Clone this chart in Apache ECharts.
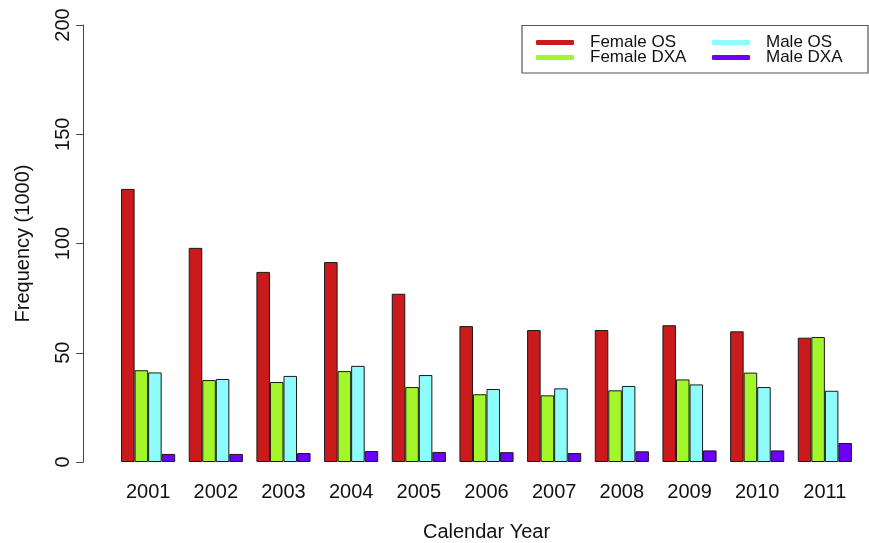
<!DOCTYPE html>
<html>
<head>
<meta charset="utf-8">
<script src="https://cdn.jsdelivr.net/npm/echarts@6/dist/echarts.min.js"></script>
<style>html,body{margin:0;padding:0;background:#fff}#c{width:869px;height:543px}</style>
</head>
<body>
<div id="c"></div>
<script>
const years = ['2001','2002','2003','2004','2005','2006','2007','2008','2009','2010','2011'];
const femaleOS  = [125, 98, 87, 91.5, 77, 62.2, 60.4, 60.4, 62.6, 59.8, 56.9];
const femaleDXA = [42, 37.5, 36.6, 41.6, 34.3, 31, 30.5, 32.8, 37.8, 40.9, 57.2];
const maleOS    = [41, 38, 39.4, 44, 39.8, 33.4, 33.7, 34.8, 35.5, 34.3, 32.6];
const maleDXA   = [3.7, 3.7, 4.1, 5, 4.6, 4.5, 4.1, 4.9, 5.3, 5.3, 8.7];
const yTicks = [0, 50, 100, 150, 200];

const colors = {'Female OS':'#CB1A1C','Female DXA':'#A3F62A','Male OS':'#8EFCFC','Male DXA':'#6A00FA'};
const font = 'Liberation Sans, Arial, sans-serif';

function bar(name, data){
  return {name, type:'bar', data, barGap:'0%', barCategoryGap:'20%',
    itemStyle:{color:colors[name], borderColor:'#1a1a1a', borderWidth:1}};
}
const legendCommon = {
  orient:'vertical', icon:'roundRect', itemWidth:38, itemHeight:5, itemGap:-2, padding:0,
  itemStyle:{borderWidth:0},
  textStyle:{fontFamily:font, fontSize:17, color:'#111', padding:[0,0,0,11]}
};
const chart = echarts.init(document.getElementById('c'), null, {renderer:'canvas'});
chart.setOption({
  animation:false,
  color:Object.values(colors),
  grid:{left:114.3, right:10.3, top:25, bottom:81, containLabel:false, outerBoundsMode:'none'},
  graphic:[{type:'rect', shape:{x:522, y:25.5, width:346, height:47.5},
    style:{fill:'none', stroke:'#555', lineWidth:1.2}}],
  legend:[
    Object.assign({left:536, top:34, data:['Female OS','Female DXA']}, legendCommon),
    Object.assign({left:712, top:34, data:['Male OS','Male DXA']}, legendCommon)
  ],
  xAxis:{type:'category', data:years,
    axisLine:{show:false}, axisTick:{show:false},
    axisLabel:{fontFamily:font, fontSize:20, color:'#111', margin:20},
    name:'Calendar Year', nameLocation:'middle', nameGap:60,
    nameTextStyle:{fontFamily:font, fontSize:20, color:'#111'}},
  yAxis:{type:'value', min:yTicks[0], max:yTicks[yTicks.length-1], interval:50, offset:31,
    splitLine:{show:false},
    axisLine:{show:true, lineStyle:{color:'#444', width:1}},
    axisTick:{show:true, inside:false, length:7, lineStyle:{color:'#444'}},
    axisLabel:{fontFamily:font, fontSize:20, color:'#111', rotate:90, margin:10},
    name:'Frequency (1000)', nameLocation:'middle', nameRotate:90, nameGap:50,
    nameTextStyle:{fontFamily:font, fontSize:20, color:'#111'}},
  series:[bar('Female OS', femaleOS), bar('Female DXA', femaleDXA), bar('Male OS', maleOS), bar('Male DXA', maleDXA)]
});
</script>
</body>
</html>
